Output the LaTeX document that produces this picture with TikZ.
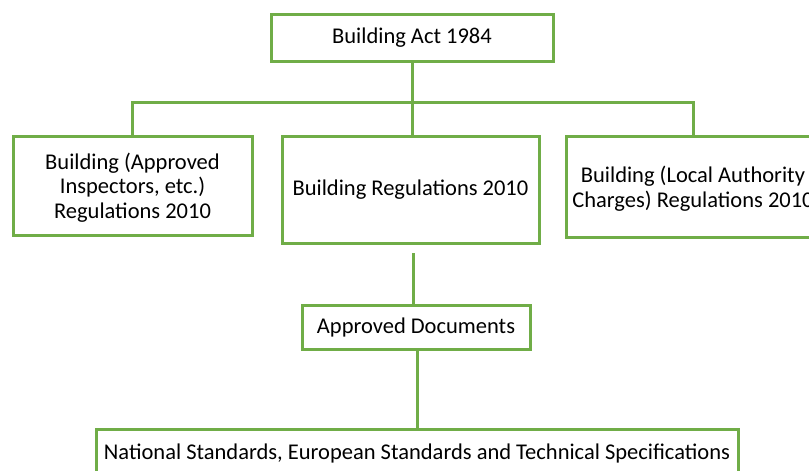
\documentclass[tikz,border=0pt]{standalone}
\usepackage{fontspec}
\setmainfont{Carlito}
\definecolor{offgreen}{RGB}{112,173,71}
\newcommand\lowertext[1]{\raisebox{-3.5pt}[\height][\depth]{\begin{tabular}{@{}c@{}}#1\end{tabular}}}
\begin{document}
\begin{tikzpicture}[x=1pt,y=-1pt,
  box/.style={draw=offgreen, line width=3pt, fill=white, align=center, inner sep=0pt,
    font=\fontsize{22.5}{24.5}\selectfont},
  link/.style={draw=offgreen, line width=3pt}]
\useasboundingbox (0,0) rectangle (809,471);
\clip (0,0) rectangle (809,471);
\node[box, minimum width=282pt, minimum height=47pt] (act) at (412,38) {Building Act 1984};
\node[box, minimum width=239pt, minimum height=99pt] (approved) at (132.5,185.5) {\lowertext{Building (Approved\\Inspectors, etc.)\\Regulations 2010}};
\node[box, minimum width=257pt, minimum height=107pt] (regs) at (410.5,189.5) {Building Regulations 2010};
\node[box, minimum width=254pt, minimum height=101pt] (charges) at (693,186.5) {\lowertext{Building (Local Authority\\Charges) Regulations 2010}};
\node[box, minimum width=228pt, minimum height=44pt] (docs) at (416,327) {Approved Documents};
\node[box, minimum width=642pt, minimum height=49pt] (stds) at (417,453.5) {National Standards, European Standards and Technical Specifications};
\coordinate (bus) at (412,102);
\coordinate (rdrop) at (693,136);
\coordinate (gapstart) at (413,253);
\coordinate (ddrop) at (417,349);
\draw[link] (act.south) -- (act.south |- bus) -| (approved.north);
\draw[link] (act.south |- bus) -| (rdrop);
\draw[link] (act.south |- bus) -- (act.south |- regs.north);
\draw[link] (gapstart) -- (gapstart |- docs.north);
\draw[link] (ddrop) -- (ddrop |- stds.north);
\end{tikzpicture}
\end{document}
